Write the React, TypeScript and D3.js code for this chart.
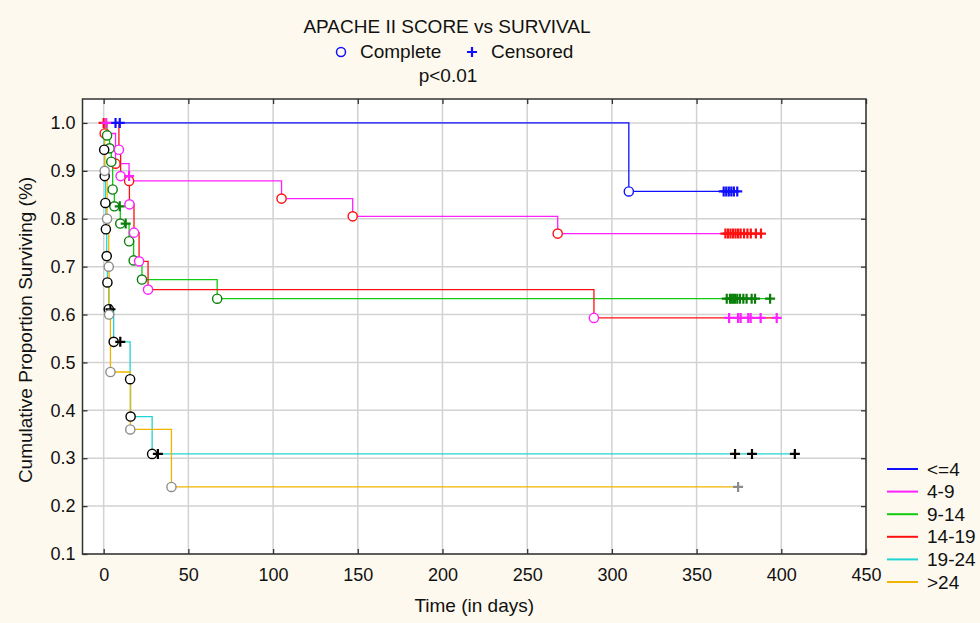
import { useEffect, useMemo, useRef } from 'react';
import * as d3 from 'd3';

const WIDTH = 980;
const HEIGHT = 623;
const plot = { left: 82.5, right: 866, top: 99, bottom: 554 };
const FONT = '"Liberation Sans", Arial, sans-serif';

const xTicks = [0, 50, 100, 150, 200, 250, 300, 350, 400, 450];
const yTicks = [0.1, 0.2, 0.3, 0.4, 0.5, 0.6, 0.7, 0.8, 0.9, 1.0];
const groupNames = ['<=4', '4-9', '9-14', '14-19', '19-24', '>24'];

// event times (days), survival right after each event, censored times
const le4Times = [310];
const le4Surv = [0.857];
const le4Censored = [7, 9.5, 366, 367.5, 369, 370.5, 372, 374];

const g4to9Times = [0.6, 7, 15, 105, 147, 268];
const g4to9Surv = [0.978, 0.915, 0.879, 0.842, 0.805, 0.769];
const g4to9Censored = [0, 367, 368.5, 370, 371.5, 373, 374.5, 376, 378, 380, 382, 385, 388];

const g9to14Times = [2, 3.5, 4.5, 5.3, 6.3, 9.8, 15, 17.7, 22.6, 67];
const g9to14Surv = [0.974, 0.947, 0.919, 0.861, 0.826, 0.79, 0.753, 0.713, 0.673, 0.633];
const g9to14Censored = [9.5, 13, 367.8, 369.7, 370.7, 371.7, 372.7, 374, 375.6, 377.6, 379.5, 382.5, 384.5, 393.4];

const g14to19Times = [9, 10, 15.2, 17.9, 20.9, 26.2, 289.4];
const g14to19Surv = [0.944, 0.889, 0.83, 0.771, 0.711, 0.652, 0.593];
const g14to19Censored = [1.5, 15, 369.2, 374.5, 376, 380.5, 381.9, 387.8, 397.3];

const g19to24Times = [0.3, 0.6, 1, 1.3, 1.8, 2.2, 3, 5.9, 15.6, 15.9, 28.6];
const g19to24Surv = [0.944, 0.889, 0.833, 0.778, 0.722, 0.667, 0.611, 0.543, 0.465, 0.387, 0.309];
const g19to24Censored = [4, 9.8, 32, 372.7, 382.7, 408];

const gt24Times = [0.6, 2, 3, 3.2, 4, 15.7, 40];
const gt24Surv = [0.9, 0.8, 0.7, 0.6, 0.48, 0.36, 0.24];
const gt24Censored = [374.5];

const lineColors = ['#1010ff', '#ff20ff', '#10cc10', '#ff1010', '#20d4d4', '#f0b400'];
const markerColors = ['#1010ff', '#ff1010', '#0a800a', '#ff20ff', '#000000', '#8c8c8c'];

const seriesData = [
    { times: le4Times, surv: le4Surv, censored: le4Censored },
    { times: g4to9Times, surv: g4to9Surv, censored: g4to9Censored },
    { times: g9to14Times, surv: g9to14Surv, censored: g9to14Censored },
    { times: g14to19Times, surv: g14to19Surv, censored: g14to19Censored },
    { times: g19to24Times, surv: g19to24Surv, censored: g19to24Censored },
    { times: gt24Times, surv: gt24Surv, censored: gt24Censored },
];

function survivalAt(times: number[], surv: number[], t: number) {
    let s = 1;
    times.forEach((time, i) => {
        if (time <= t) s = surv[i];
    });
    return s;
}

export default function App() {
    const xAxisEl = useRef<SVGGElement>(null);
    const yAxisEl = useRef<SVGGElement>(null);
    const topAxisEl = useRef<SVGGElement>(null);
    const rightAxisEl = useRef<SVGGElement>(null);

    const xScale = useMemo(
        () => d3.scaleLinear().domain([-12.5, 450]).range([plot.left, plot.right]),
        []
    );
    const yScale = useMemo(
        () => d3.scaleLinear().domain([0.1, 1.05]).range([plot.bottom, plot.top]),
        []
    );

    const curves = useMemo(() => {
        const line = d3
            .line<[number, number]>()
            .x((d) => xScale(d[0]))
            .y((d) => yScale(d[1]))
            .curve(d3.curveStepAfter);
        return seriesData.map((s, i) => {
            const end = Math.max(d3.max(s.times) ?? 0, d3.max(s.censored) ?? 0);
            const pts: [number, number][] = [[0, 1]];
            s.times.forEach((t, j) => pts.push([t, s.surv[j]]));
            pts.push([end, s.surv[s.surv.length - 1]]);
            return {
                name: groupNames[i],
                path: line(pts) ?? '',
                color: lineColors[i],
                marker: markerColors[i],
                events: s.times.map((t, j) => ({ x: xScale(t), y: yScale(s.surv[j]) })),
                censors: s.censored.map((t) => ({
                    x: xScale(t),
                    y: yScale(survivalAt(s.times, s.surv, t)),
                })),
            };
        });
    }, [xScale, yScale]);

    useEffect(() => {
        const style = (sel: d3.Selection<SVGGElement, unknown, null, undefined>) => {
            sel.select('.domain').remove();
            sel.attr('font-family', FONT).attr('font-size', 18).attr('color', '#333');
            sel.selectAll('line').attr('stroke-width', 1.3);
            sel.selectAll('text').attr('fill', '#111');
        };
        if (xAxisEl.current) {
            const axis = d3
                .axisBottom(xScale)
                .tickValues(xTicks)
                .tickSizeInner(-5)
                .tickSizeOuter(0)
                .tickPadding(14);
            style(d3.select(xAxisEl.current).call(axis));
        }
        if (yAxisEl.current) {
            const axis = d3
                .axisLeft(yScale)
                .tickValues(yTicks)
                .tickFormat(d3.format('.1f'))
                .tickSizeInner(-5)
                .tickSizeOuter(0)
                .tickPadding(7);
            style(d3.select(yAxisEl.current).call(axis));
        }
        if (topAxisEl.current) {
            const axis = d3.axisTop(xScale).tickValues(xTicks).tickFormat(() => '').tickSizeInner(-5).tickSizeOuter(0);
            style(d3.select(topAxisEl.current).call(axis));
        }
        if (rightAxisEl.current) {
            const axis = d3.axisRight(yScale).tickValues(yTicks).tickFormat(() => '').tickSizeInner(-5).tickSizeOuter(0);
            style(d3.select(rightAxisEl.current).call(axis));
        }
    }, [xScale, yScale]);

    return (
        <>
            <style>{`body{margin:0}`}</style>
            <svg width={WIDTH} height={HEIGHT} viewBox={`0 0 ${WIDTH} ${HEIGHT}`} style={{ display: 'block' }}>
                <rect width={WIDTH} height={HEIGHT} fill="#fdf9ee" />
                <rect
                    x={plot.left}
                    y={plot.top}
                    width={plot.right - plot.left}
                    height={plot.bottom - plot.top}
                    fill="#ffffff"
                />
                <g stroke="#d2d2d2" strokeWidth={1.5}>
                    {xTicks.map((t) => (
                        <line key={`gx${t}`} x1={xScale(t)} x2={xScale(t)} y1={plot.top} y2={plot.bottom} />
                    ))}
                    {yTicks.map((t) => (
                        <line key={`gy${t}`} x1={plot.left} x2={plot.right} y1={yScale(t)} y2={yScale(t)} />
                    ))}
                </g>

                {curves.map((c) => (
                    <path key={c.name} d={c.path} fill="none" stroke={c.color} strokeWidth={1.3} />
                ))}
                {curves.map((c) => (
                    <g key={`m${c.name}`} stroke={c.marker}>
                        {c.events.map((p, i) => (
                            <circle key={i} cx={p.x} cy={p.y} r={4.6} fill="#fff" strokeWidth={1.4} />
                        ))}
                        {c.censors.map((p, i) => (
                            <path key={i} d={`M${p.x - 5},${p.y}h10M${p.x},${p.y - 5}v10`} strokeWidth={2.2} />
                        ))}
                    </g>
                ))}

                <rect
                    x={plot.left}
                    y={plot.top}
                    width={plot.right - plot.left}
                    height={plot.bottom - plot.top}
                    fill="none"
                    stroke="#333"
                    strokeWidth={1.5}
                />
                <g ref={xAxisEl} transform={`translate(0, ${plot.bottom})`} />
                <g ref={yAxisEl} transform={`translate(${plot.left}, 0)`} />
                <g ref={topAxisEl} transform={`translate(0, ${plot.top})`} />
                <g ref={rightAxisEl} transform={`translate(${plot.right}, 0)`} />

                <g fontFamily={FONT} fill="#111">
                    <text x={447} y={33} fontSize={19} textAnchor="middle">
                        APACHE II SCORE vs SURVIVAL
                    </text>
                    <circle cx={341} cy={52} r={4.5} fill="none" stroke="#1010ff" strokeWidth={1.5} />
                    <text x={360} y={58} fontSize={19}>
                        Complete
                    </text>
                    <path d="M467,52h10M472,47v10" stroke="#1010ff" strokeWidth={2.2} />
                    <text x={491} y={58} fontSize={19}>
                        Censored
                    </text>
                    <text x={448} y={82} fontSize={19} textAnchor="middle">
                        p&lt;0.01
                    </text>
                    <text x={(plot.left + plot.right) / 2} y={612} fontSize={19} textAnchor="middle">
                        Time (in days)
                    </text>
                    <text
                        transform={`translate(32, 330) rotate(-90)`}
                        fontSize={19}
                        textAnchor="middle"
                    >
                        Cumulative Proportion Surviving (%)
                    </text>
                </g>

                <g fontFamily={FONT} fontSize={19} fill="#111">
                    {curves.map((c, i) => (
                        <g key={`l${c.name}`} transform={`translate(0, ${469 + i * 22.6})`}>
                            <line x1={887} x2={918} stroke={c.color} strokeWidth={2} />
                            <text x={927} dy="0.35em">
                                {c.name}
                            </text>
                        </g>
                    ))}
                </g>
            </svg>
        </>
    );
}
